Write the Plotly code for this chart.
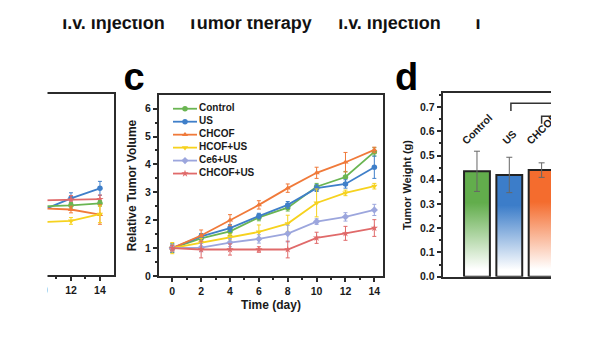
import plotly.graph_objects as go

W, H = 600, 338
FONT = "Liberation Sans, Arial, sans-serif"
AXC = "#2b2b2b"

# ---------------- data: panel c (relative tumor volume) ----------------
days = [0, 2, 4, 6, 8, 10, 12, 14]
groups = ["Control", "US", "CHCOF", "HCOF+US", "Ce6+US", "CHCOF+US"]
colors = ["#6ab552", "#3f7fc9", "#f07a3a", "#f6d21e", "#9ca6dd", "#e06a6a"]
symbols = ["circle", "circle", "triangle-up", "triangle-down", "diamond", "star"]

vol_control = [1.0, 1.35, 1.60, 2.10, 2.45, 3.20, 3.55, 4.45]
vol_us = [1.0, 1.42, 1.72, 2.15, 2.55, 3.15, 3.30, 3.90]
vol_chcof = [1.0, 1.45, 2.00, 2.55, 3.15, 3.70, 4.08, 4.52]
vol_hcof_us = [1.0, 1.20, 1.40, 1.58, 1.88, 2.62, 2.98, 3.22]
vol_ce6_us = [1.0, 1.02, 1.20, 1.33, 1.52, 1.95, 2.12, 2.37]
vol_chcof_us = [1.0, 0.95, 0.95, 0.95, 0.95, 1.37, 1.53, 1.72]

err_control = [0.15, 0.15, 0.15, 0.12, 0.12, 0.12, 0.20, 0.15]
err_us = [0.15, 0.10, 0.12, 0.10, 0.12, 0.12, 0.15, 0.40]
err_chcof = [0.10, 0.20, 0.20, 0.15, 0.15, 0.20, 0.35, 0.10]
err_hcof_us = [0.20, 0.15, 0.10, 0.25, 0.30, 0.50, 0.10, 0.10]
err_ce6_us = [0.10, 0.15, 0.15, 0.15, 0.30, 0.10, 0.15, 0.20]
err_chcof_us = [0.10, 0.30, 0.20, 0.10, 0.30, 0.20, 0.25, 0.30]

vols = [vol_control, vol_us, vol_chcof, vol_hcof_us, vol_ce6_us, vol_chcof_us]
errs = [err_control, err_us, err_chcof, err_hcof_us, err_ce6_us, err_chcof_us]

# ---------------- data: panel b (partially visible, left) ----------------
days_b = [10, 12, 14]
b_names = ["US", "CHCOF+US", "Control", "CHCOF", "HCOF+US"]
b_colors = ["#3f7fc9", "#e06a6a", "#6ab552", "#f07a3a", "#f6d21e"]
b_symbols = ["circle", "star", "circle", "triangle-up", "triangle-down"]
b_us = [2.32, 2.75, 3.11]
b_chcof_us = [2.68, 2.70, 2.72]
b_control = [2.46, 2.50, 2.57]
b_chcof = [2.39, 2.35, 2.17]
b_hcof_us = [1.90, 1.94, 2.18]
b_vals = [b_us, b_chcof_us, b_control, b_chcof, b_hcof_us]
b_errs = [[0.15, 0.2, 0.25], [0.1, 0.15, 0.15], [0.1, 0.1, 0.1], [0.1, 0.12, 0.35], [0.1, 0.12, 0.3]]

# ---------------- data: panel d (tumor weight) ----------------
d_cats = ["Control", "US", "CHCOF"]
d_vals = [0.435, 0.420, 0.440]
d_errs = [0.083, 0.073, 0.030]
d_colors = ["#62ad4c", "#3c7dc9", "#f46c2e"]

top_labels = ["I.v. injection", "Tumor therapy", "I.v. injection", "I"]
top_label_x = [113.5, 249.5, 389.5, 478]

# ---------------- layout constants ----------------
BAR_W = 0.8
LABEL_BASE = 0.525


def dom_y(px_bottom, px_top):
    return [1 - px_bottom / H, 1 - px_top / H]


fig = go.Figure()

# panel b lines
for name, col, sym, v, e in zip(b_names, b_colors, b_symbols, b_vals, b_errs):
    fig.add_trace(go.Scatter(
        x=days_b, y=v, mode="lines+markers", name=name,
        line=dict(color=col, width=1.8), marker=dict(symbol=sym, size=5.5, color=col),
        error_y=dict(type="data", array=e, color=col, thickness=1, width=2),
        xaxis="x", yaxis="y", showlegend=False))

# panel c lines
for name, col, sym, v, e in zip(groups, colors, symbols, vols, errs):
    fig.add_trace(go.Scatter(
        x=days, y=v, mode="lines+markers", name=name,
        line=dict(color=col, width=1.8), marker=dict(symbol=sym, size=5.5, color=col),
        error_y=dict(type="data", array=e, color=col, thickness=1, width=2),
        xaxis="x2", yaxis="y2", showlegend=False))

# panel d: invisible bars carrying the rotated category labels (clipped at subplot edge)
fig.add_trace(go.Bar(
    x=list(range(len(d_cats))), y=[LABEL_BASE] * len(d_cats), width=BAR_W,
    marker=dict(color="rgba(0,0,0,0)", line=dict(width=0)),
    text=d_cats, textposition="outside", textangle=-45, constraintext="none",
    cliponaxis=True, textfont=dict(family=FONT, size=10.5, color="#1a1a1a", weight="bold"),
    hoverinfo="skip", xaxis="x3", yaxis="y3", showlegend=False))

# panel d: gradient bars
for i, (val, col) in enumerate(zip(d_vals, d_colors)):
    fig.add_trace(go.Scatter(
        x=[i - BAR_W / 2, i + BAR_W / 2, i + BAR_W / 2, i - BAR_W / 2, i - BAR_W / 2],
        y=[0, 0, val, val, 0], mode="lines", fill="toself",
        fillgradient=dict(type="vertical", start=0, stop=val,
                          colorscale=[[0, "#ffffff"], [0.1, "#ffffff"], [0.72, col], [1, col]]),
        line=dict(color="#222222", width=2), hoverinfo="skip",
        xaxis="x3", yaxis="y3", showlegend=False))

# panel d: error bars
fig.add_trace(go.Scatter(
    x=list(range(len(d_cats))), y=d_vals, mode="markers",
    marker=dict(size=1, color="rgba(0,0,0,0)"),
    error_y=dict(type="data", array=d_errs, color="#666666", thickness=1, width=3),
    xaxis="x3", yaxis="y3", showlegend=False, hoverinfo="skip"))

# custom legend for panel c (overlay axis in pixel units)
LEG_X0, LEG_X1, LEG_TX, LEG_Y0, LEG_DY = 173, 197, 199, 110.7, 13.2
for k, (name, col, sym) in enumerate(zip(groups, colors, symbols)):
    yy = LEG_Y0 + k * LEG_DY
    fig.add_trace(go.Scatter(x=[LEG_X0, LEG_X1], y=[yy, yy], mode="lines",
                             line=dict(color=col, width=1.8), xaxis="x4", yaxis="y4",
                             showlegend=False, hoverinfo="skip"))
    fig.add_trace(go.Scatter(x=[(LEG_X0 + LEG_X1) / 2], y=[yy], mode="markers",
                             marker=dict(symbol=sym, size=5.5, color=col), xaxis="x4", yaxis="y4",
                             showlegend=False, hoverinfo="skip"))
fig.add_trace(go.Scatter(
    x=[LEG_TX] * len(groups), y=[LEG_Y0 + k * LEG_DY for k in range(len(groups))],
    mode="text", text=groups, textposition="middle right",
    textfont=dict(family=FONT, size=10, color="#1a1a1a", weight="bold"),
    xaxis="x4", yaxis="y4", showlegend=False, hoverinfo="skip", cliponaxis=False))

# panel letters
fig.add_trace(go.Scatter(
    x=[134, 406.5], y=[81.5, 81.5], mode="text", text=["c", "d"], textposition="middle center",
    textfont=dict(family=FONT, size=38, color="#000", weight="bold"),
    xaxis="x4", yaxis="y4", showlegend=False, hoverinfo="skip", cliponaxis=False))

# top strip text (clipped at the top like the reference crop)
fig.add_trace(go.Scatter(
    x=top_label_x, y=[25] * len(top_labels), mode="text", text=top_labels,
    textposition="middle center",
    textfont=dict(family=FONT, size=18, color="#111", weight="bold"),
    xaxis="x5", yaxis="y5", showlegend=False, hoverinfo="skip", cliponaxis=True))

tickfont = dict(family=FONT, size=10.5, color="#1a1a1a", weight="bold")
titlefont = dict(family=FONT, size=12, color="#1a1a1a", weight="bold")
base_ax = dict(showline=True, linecolor=AXC, linewidth=2, showgrid=False, zeroline=False,
               ticks="outside", tickcolor=AXC, tickwidth=1.5, ticklen=4, tickfont=tickfont)

fig.update_layout(
    width=W, height=H, margin=dict(l=0, r=0, t=0, b=0), autosize=False,
    paper_bgcolor="white", plot_bgcolor="rgba(0,0,0,0)",
    showlegend=False,
    # panel b
    xaxis=dict(base_ax, domain=[0, 114 / W], range=[7.1, 14.97], dtick=2, mirror=True,
               minor=dict(dtick=1, ticks="outside", ticklen=2, tickcolor=AXC), anchor="y"),
    yaxis=dict(base_ax, domain=dom_y(280, 95.5), range=[0, 6.5], mirror=True,
               showticklabels=False, ticks="", anchor="x"),
    # panel c
    xaxis2=dict(base_ax, domain=[159 / W, 383 / W], range=[-0.92, 14.6], dtick=2, mirror=True,
                minor=dict(dtick=1, ticks="outside", ticklen=2, tickcolor=AXC), anchor="y2",
                title=dict(text="Time (day)", font=titlefont, standoff=5)),
    yaxis2=dict(base_ax, domain=dom_y(281, 96.7), range=[0, 6.49], dtick=1, mirror=True,
                minor=dict(dtick=0.5, ticks="outside", ticklen=2, tickcolor=AXC), anchor="x2",
                title=dict(text="Relative Tumor Volume", font=titlefont, standoff=6)),
    # panel d
    xaxis3=dict(base_ax, domain=[442.7 / W, 551 / W], range=[-1.06, 2.29], mirror=True,
                ticks="", showticklabels=False, anchor="y3"),
    yaxis3=dict(base_ax, domain=dom_y(281.7, 95), range=[0, 0.757], dtick=0.1, tickformat=".1f",
                minor=dict(dtick=0.05, ticks="outside", ticklen=2, tickcolor=AXC), anchor="x3",
                title=dict(text="Tumor Weight (g)", font=dict(titlefont, size=11), standoff=6)),
    # overlay pixel axis
    xaxis4=dict(domain=[0, 1], range=[0, W], visible=False, anchor="y4"),
    yaxis4=dict(domain=[0, 1], range=[H, 0], visible=False, anchor="x4"),
    # top strip
    xaxis5=dict(domain=[0, 1], range=[0, W], visible=False, anchor="y5"),
    yaxis5=dict(domain=dom_y(45, 19.5), range=[45, 19.5], visible=False, anchor="x5"),
    shapes=[
        dict(type="path", xref="x3", yref="y3", path="M 1.05,0.684 L 1.05,0.716 L 4,0.716",
             line=dict(color="#333", width=1.5), layer="above"),
        dict(type="path", xref="x3", yref="y3", path="M 2.0,0.631 L 2.0,0.662 L 4,0.662",
             line=dict(color="#333", width=1.5), layer="above"),
        dict(type="rect", xref="paper", yref="paper", x0=0, x1=47.5 / W, y0=0, y1=1,
             fillcolor="white", line=dict(width=0), layer="above"),
    ],
)

fig.write_html("out.html")
